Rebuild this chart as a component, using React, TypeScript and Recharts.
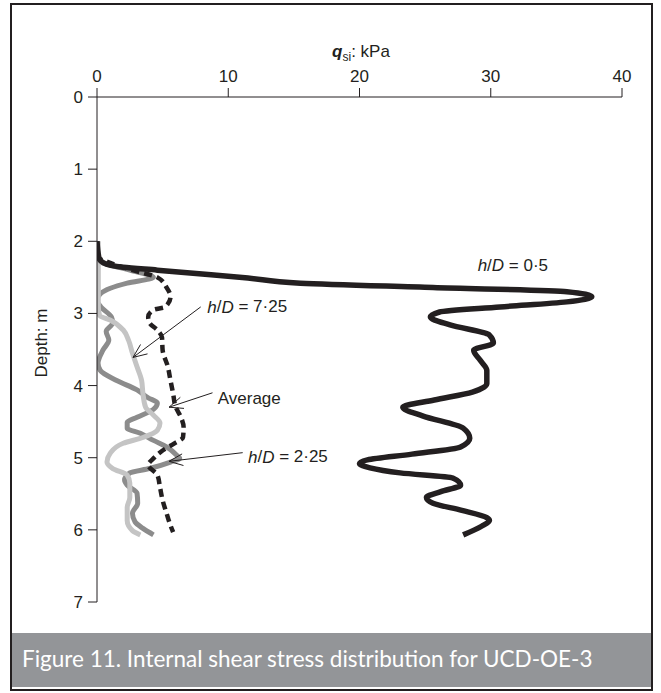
import { LineChart, Line, XAxis, YAxis, ReferenceLine, ReferenceDot } from 'recharts';

// h/D = 0.5 (black)
const depth05 = [2.0, 2.23, 2.3, 2.36, 2.4, 2.44, 2.51, 2.58, 2.64, 2.7, 2.77, 2.84, 2.91, 2.98, 3.05, 3.16, 3.3, 3.41, 3.51, 3.65, 3.79, 3.97, 4.09, 4.2, 4.3, 4.42, 4.59, 4.73, 4.85, 4.95, 5.03, 5.08, 5.14, 5.21, 5.28, 5.38, 5.47, 5.55, 5.63, 5.73, 5.83, 5.87, 5.95, 6.07];
const qsi05 = [0, 0.15, 0.5, 2.0, 4.6, 7.1, 11.5, 15.5, 25.6, 35.8, 37.7, 35.8, 30.7, 26.1, 25.4, 26.9, 29.9, 30.2, 28.7, 29.2, 29.7, 29.7, 28.6, 25.7, 23.3, 24.8, 27.9, 28.4, 27.7, 24.0, 20.6, 20.0, 20.8, 23.1, 27.1, 27.7, 26.2, 25.1, 25.6, 27.8, 29.7, 29.9, 29.3, 27.9];

// h/D = 2.25 (dark grey)
const depth225 = [2.22, 2.28, 2.33, 2.4, 2.5, 2.58, 2.72, 2.82, 2.91, 3.05, 3.13, 3.25, 3.37, 3.51, 3.69, 3.79, 3.93, 4.06, 4.17, 4.24, 4.33, 4.44, 4.51, 4.59, 4.66, 4.76, 4.85, 4.97, 5.01, 5.06, 5.15, 5.21, 5.31, 5.38, 5.49, 5.63, 5.77, 5.89, 5.98, 6.07];
const qsi225 = [0, 0.2, 1.0, 2.5, 4.3, 2.3, 0.3, 0.0, 0.3, 1.1, 1.2, 0.7, 0.9, 0.45, 0.08, 0.25, 1.5, 3.05, 3.9, 4.6, 4.3, 3.05, 2.3, 2.3, 3.3, 4.3, 5.3, 6.1, 6.3, 5.6, 4.0, 2.5, 2.1, 2.3, 3.05, 3.1, 2.7, 2.9, 3.5, 4.3];

// h/D = 7.25 (light grey)
const depth725 = [2.0, 2.5, 2.9, 3.03, 3.09, 3.23, 3.37, 3.55, 3.74, 3.93, 4.11, 4.3, 4.41, 4.52, 4.62, 4.72, 4.8, 4.94, 5.06, 5.15, 5.24, 5.35, 5.55, 5.69, 5.87, 6.01, 6.07];
const qsi725 = [0.1, 0.1, 0.1, 0.2, 1.0, 2.0, 2.4, 2.7, 3.05, 3.4, 3.5, 3.7, 4.3, 4.8, 4.6, 3.5, 2.0, 1.0, 0.76, 1.2, 2.3, 2.5, 2.5, 2.3, 2.3, 2.7, 3.3];

// average (dashed)
const depthAvg = [2.0, 2.22, 2.3, 2.4, 2.5, 2.64, 2.77, 2.91, 2.95, 3.05, 3.13, 3.23, 3.33, 3.51, 3.74, 3.93, 4.11, 4.3, 4.44, 4.58, 4.72, 4.8, 4.9, 5.01, 5.1, 5.24, 5.41, 5.59, 5.77, 5.94, 6.03];
const qsiAvg = [0, 0.08, 1.0, 2.7, 4.6, 5.3, 5.6, 5.2, 4.3, 3.9, 4.0, 4.6, 4.95, 5.0, 5.4, 5.6, 5.8, 6.0, 6.4, 6.6, 6.55, 5.9, 5.0, 4.3, 3.9, 4.6, 4.8, 5.0, 5.3, 5.6, 5.8];

const xTicks = [0, 10, 20, 30, 40];
const yTicks = [0, 1, 2, 3, 4, 5, 6, 7];

// annotations: label anchor and arrow tip, in data units
const labelText = ['0·5', '7·25', 'Average', '2·25'];
const labelAt = [[29.0, 2.33], [8.4, 2.91], [9.2, 4.18], [11.5, 4.99]];
const arrowTip = [null, [2.74, 3.61], [5.49, 4.3], [5.49, 5.05]];
const arrowTail = [null, [7.9, 2.91], [8.8, 4.1], [11.1, 4.93]];

const ink = '#231f20';
const font = "'Liberation Sans', Arial, sans-serif";

const zip = (d: number[], q: number[]) => d.map((v, i) => ({ d: v, q: q[i] }));

function Arrow(props: any) {
    const { x1, y1, x2, y2 } = props;
    const a = Math.atan2(y2 - y1, x2 - x1);
    const len = 15;
    const s = 0.4;
    const h1 = a + Math.PI - s;
    const h2 = a + Math.PI + s;
    return (
        <g stroke={ink} strokeWidth={1} fill="none">
            <line x1={x1} y1={y1} x2={x2} y2={y2} />
            <line x1={x2} y1={y2} x2={x2 + len * Math.cos(h1)} y2={y2 + len * Math.sin(h1)} />
            <line x1={x2} y1={y2} x2={x2 + len * Math.cos(h2)} y2={y2 + len * Math.sin(h2)} />
        </g>
    );
}

function labelShape(text: string) {
    return (p: any) => (
        <text x={p.cx} y={p.cy} dominantBaseline="central" fontFamily={font} fontSize={17} fill={ink}>
            {text === 'Average' ? text : (
                <>
                    <tspan fontStyle="italic">h</tspan>/<tspan fontStyle="italic">D</tspan> = {text}
                </>
            )}
        </text>
    );
}

export default function App() {
    return (
        <div style={{ position: 'relative', width: 661, height: 693, background: '#fff', overflow: 'hidden' }}>
            <style>{'body{margin:0}'}</style>
            <div style={{ position: 'absolute', left: 10, top: 3, width: 639, height: 684, border: `2px solid ${ink}` }} />
            <div style={{ position: 'absolute', left: 12, top: 633, width: 639, height: 54, background: '#939598' }} />
            <div style={{ position: 'absolute', left: 22, top: 645, fontFamily: 'Lato, sans-serif', fontSize: 22.5, color: '#fff', whiteSpace: 'nowrap' }}>
                Figure 11. Internal shear stress distribution for UCD-OE-3
            </div>
            <div style={{ position: 'absolute', left: 0, width: 722, top: 42, textAlign: 'center', fontFamily: font, fontSize: 17, color: ink, whiteSpace: 'nowrap' }}>
                <b><i>q</i></b><sub style={{ fontSize: 12 }}>si</sub>: kPa
            </div>
            <div style={{ position: 'absolute', left: 42, top: 343, transform: 'translate(-50%, -50%) rotate(-90deg)', fontFamily: font, fontSize: 17, color: ink, whiteSpace: 'nowrap' }}>
                Depth: m
            </div>
            <div style={{ position: 'absolute', left: 0, top: 0 }}>
                <LineChart width={661} height={693} layout="vertical" margin={{ top: 57, right: 39, bottom: 91, left: 47 }}>
                    <XAxis
                        type="number"
                        orientation="top"
                        domain={[0, 40]}
                        ticks={xTicks}
                        height={40}
                        tickSize={9}
                        tickMargin={6}
                        stroke={ink}
                        tick={{ fill: ink, fontSize: 17, fontFamily: font }}
                        allowDataOverflow
                    />
                    <YAxis
                        type="number"
                        dataKey="d"
                        domain={[0, 7]}
                        ticks={yTicks}
                        width={50}
                        tickSize={9}
                        tickMargin={5}
                        stroke={ink}
                        tick={{ fill: ink, fontSize: 17, fontFamily: font }}
                        allowDataOverflow
                    />
                    <Line data={zip(depth225, qsi225)} dataKey="q" type="monotone" stroke="#8c8c8c" strokeWidth={5} dot={false} isAnimationActive={false} />
                    <Line data={zip(depth725, qsi725)} dataKey="q" type="monotone" stroke="#c4c4c4" strokeWidth={5} dot={false} isAnimationActive={false} />
                    <Line data={zip(depthAvg, qsiAvg)} dataKey="q" type="monotone" stroke={ink} strokeWidth={4.5} strokeDasharray="8 5" dot={false} isAnimationActive={false} />
                    <Line data={zip(depth05, qsi05)} dataKey="q" type="monotone" stroke={ink} strokeWidth={5.5} dot={false} isAnimationActive={false} />
                    {labelText.map((t, i) =>
                        arrowTip[i] ? (
                            <ReferenceLine
                                key={`arr-${i}`}
                                segment={[
                                    { x: arrowTail[i]![0], y: arrowTail[i]![1] },
                                    { x: arrowTip[i]![0], y: arrowTip[i]![1] },
                                ]}
                                shape={Arrow}
                            />
                        ) : null
                    )}
                    {labelText.map((t, i) => (
                        <ReferenceDot key={`lab-${i}`} x={labelAt[i][0]} y={labelAt[i][1]} r={1} shape={labelShape(t)} />
                    ))}
                </LineChart>
            </div>
        </div>
    );
}
